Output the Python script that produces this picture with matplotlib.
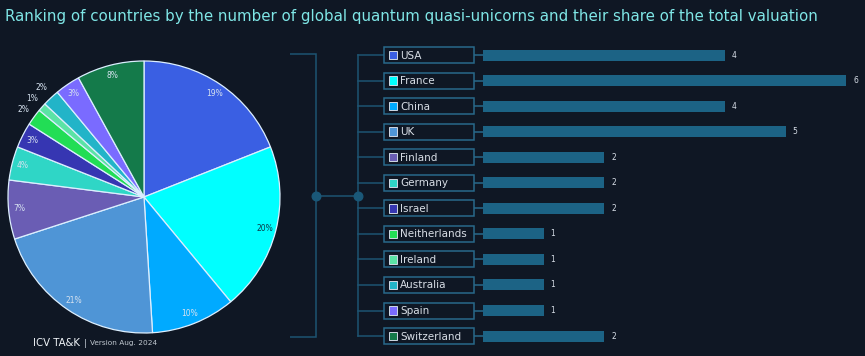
import matplotlib
matplotlib.use("Agg")
import matplotlib.pyplot as plt
from matplotlib.patches import Rectangle
import numpy as np

# ── Data ──────────────────────────────────────────────────────────────
countries = ["USA", "France", "China", "UK", "Finland", "Germany", "Israel",
             "Neitherlands", "Ireland", "Australia", "Spain", "Switzerland"]
unicorn_counts = [4, 6, 4, 5, 2, 2, 2, 1, 1, 1, 1, 2]
valuation_share = [19, 20, 10, 21, 7, 4, 3, 2, 1, 2, 3, 8]
country_colors = ["#3a5fe3", "#00ffff", "#00aaff", "#4f95d6", "#6a5db4",
                  "#2fd6c6", "#3636b2", "#22dd55", "#5be3a5", "#22b4c8",
                  "#7a6bff", "#147a4a"]

TITLE = ("Ranking of countries by the number of global quantum "
         "quasi-unicorns and their share of the total valuation")

# ── Style ─────────────────────────────────────────────────────────────
BG = "#0f1724"
LINE = "#1d5472"
BAR = "#1c6385"
BOX_EDGE = "#28698a"
W, H = 865, 356

fig = plt.figure(figsize=(W / 100, H / 100), dpi=100, facecolor=BG)

fig.text(5 / W, 1 - 17 / H, TITLE, color="#7fe6e6", fontsize=10.8,
         va="center", ha="left")

# ── Pie (share of valuation) ─────────────────────────────────────────
cx, cy, r = 144, 197, 136
side = 2 * r * 1.25
pax = fig.add_axes([(cx - side / 2) / W, (H - cy - side / 2) / H,
                    side / W, side / H])
pax.set_facecolor("none")
wedges, _ = pax.pie(valuation_share, colors=country_colors, startangle=90,
                    counterclock=False,
                    wedgeprops=dict(edgecolor="#dcefff", linewidth=0.9))
for w, share, name in zip(wedges, valuation_share, countries):
    ang = np.deg2rad((w.theta1 + w.theta2) / 2)
    dist = 1.1 if share <= 2 else 0.92
    tc = "#0b3a48" if name == "France" else "#d6e2f0"
    pax.text(dist * np.cos(ang), dist * np.sin(ang), f"{share}%",
             ha="center", va="center", fontsize=5.5, color=tc)

fig.text(33 / W, 1 - 343 / H, "ICV TA&K", color="#f0f4f8", fontsize=7.3,
         va="center", ha="left")
fig.text(84 / W, 1 - 343 / H, "|", color="#c0c8d0",
         fontsize=6.5, va="center", ha="left")
fig.text(90 / W, 1 - 343 / H, "Version Aug. 2024", color="#c0c8d0",
         fontsize=5.3, va="center", ha="left")

# ── Bars (number of quasi-unicorns) ──────────────────────────────────
x0, unit = 483, 60.5          # pixel of value 0, pixels per unit
y0, step = 55, 25.55          # pixel of first row, pixels per row
ax_l, ax_t, ax_b = 290, 40, 352
bax = fig.add_axes([ax_l / W, (H - ax_b) / H, (W - ax_l) / W, (ax_b - ax_t) / H])
bax.set_facecolor("none")
bax.set_xlim((ax_l - x0) / unit, (W - x0) / unit)
bax.set_ylim((ax_b - y0) / step, (ax_t - y0) / step)
bax.axis("off")

ypos = list(range(len(countries)))
bax.barh(ypos, unicorn_counts, height=11 / step, color=BAR, zorder=3)
for y, v in zip(ypos, unicorn_counts):
    bax.text(v + 7 / unit, y, str(v), color="#d6dde6", fontsize=5.5,
             va="center", ha="left")


def px(xp):
    return (xp - x0) / unit


# connector tree
last = ypos[-1]
mid = (196 - y0) / step
top_y, bot_y = (54 - y0) / step, (336.5 - y0) / step
bax.plot([px(290), px(316), px(316), px(290)], [top_y, top_y, bot_y, bot_y],
         color=LINE, lw=1.1, solid_joinstyle="miter")
bax.plot([px(358), px(358)], [0, last], color=LINE, lw=1.1)
bax.plot([px(316), px(358)], [mid, mid], color=LINE, lw=1.1)
bax.scatter([px(316), px(358)], [mid, mid], s=38, color="#1a5878", zorder=4)

bh = 16 / step
for y, name, col in zip(ypos, countries, country_colors):
    bax.plot([px(358), px(384)], [y, y], color=LINE, lw=1.1)
    bax.plot([px(474), px(483)], [y, y], color=BOX_EDGE, lw=1.1)
    bax.add_patch(Rectangle((px(384), y - bh / 2), px(474) - px(384), bh,
                            facecolor=BG, edgecolor=BOX_EDGE, lw=1.1, zorder=4))
    sq = 8.5
    bax.add_patch(Rectangle((px(388.5), y - sq / 2 / step), sq / unit, sq / step,
                            facecolor=col, edgecolor="#cfd8e4", lw=0.7, zorder=5))
    bax.text(px(400), y + 0.02, name, color="#d8dee6", fontsize=7.5,
             va="center", ha="left", zorder=6)

fig.savefig("out.png", dpi=100, facecolor=BG)
